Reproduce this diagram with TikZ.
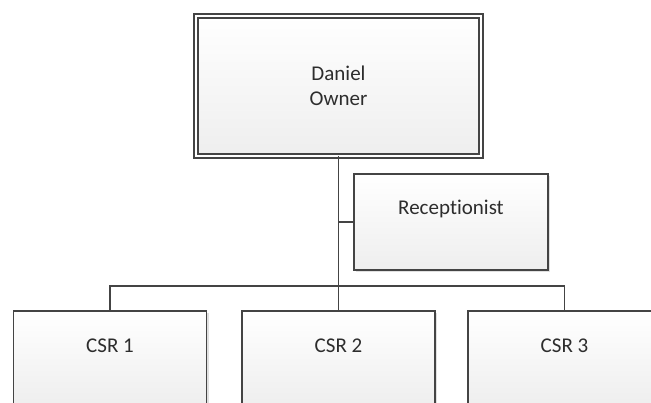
\documentclass[tikz,border=0pt]{standalone}
\usepackage{fontspec}
\setmainfont{Carlito}[Ligatures={NoCommon}]
\usetikzlibrary{shadows}
\definecolor{edge}{RGB}{68,68,68}
\definecolor{ink}{RGB}{45,45,45}
\definecolor{boxbot}{RGB}{238,238,238}
\begin{document}
\begin{tikzpicture}[x=1pt,y=-1pt,
  orgbox/.style={draw=edge, line width=1.4pt, rectangle, inner sep=0pt, outer sep=0pt,
    anchor=north west, top color=white, bottom color=boxbot,
    drop shadow={shadow xshift=2pt, shadow yshift=-2pt, fill=black, opacity=0.12}},
  smallbox/.style={orgbox, minimum width=193pt, minimum height=96pt},
  boxtext/.style={anchor=center, yshift=-35pt, font=\fontsize{21}{25}\selectfont, text=ink},
  link/.style={draw=edge, line width=1.4pt}]
\useasboundingbox (0,0) rectangle (651,403);
\clip (0,0) rectangle (651,403);
\node[orgbox, minimum width=285pt, minimum height=140pt, double=white, double distance=2.6pt,
  align=center, font=\fontsize{21}{25}\selectfont, text=ink] (owner) at (196,16) {Daniel\\Owner};
\node[smallbox, minimum width=194pt, label={[boxtext]north:Receptionist}] (recep) at (354,174) {};
\node[smallbox, label={[boxtext]north:CSR 1}] (csr1) at (13.5,311) {};
\node[smallbox, label={[boxtext]north:CSR 2}] (csr2) at (242,311) {};
\node[smallbox, label={[boxtext]north:CSR 3}] (csr3) at (468,311) {};
\coordinate (bus) at (owner.south |- 0,286);
\draw[link] (owner.south) -- (csr2.north);
\draw[link] (owner.south |- recep.west) -- (recep.west);
\draw[link] (csr1.north) |- (bus) -| (csr3.north);
\end{tikzpicture}
\end{document}
